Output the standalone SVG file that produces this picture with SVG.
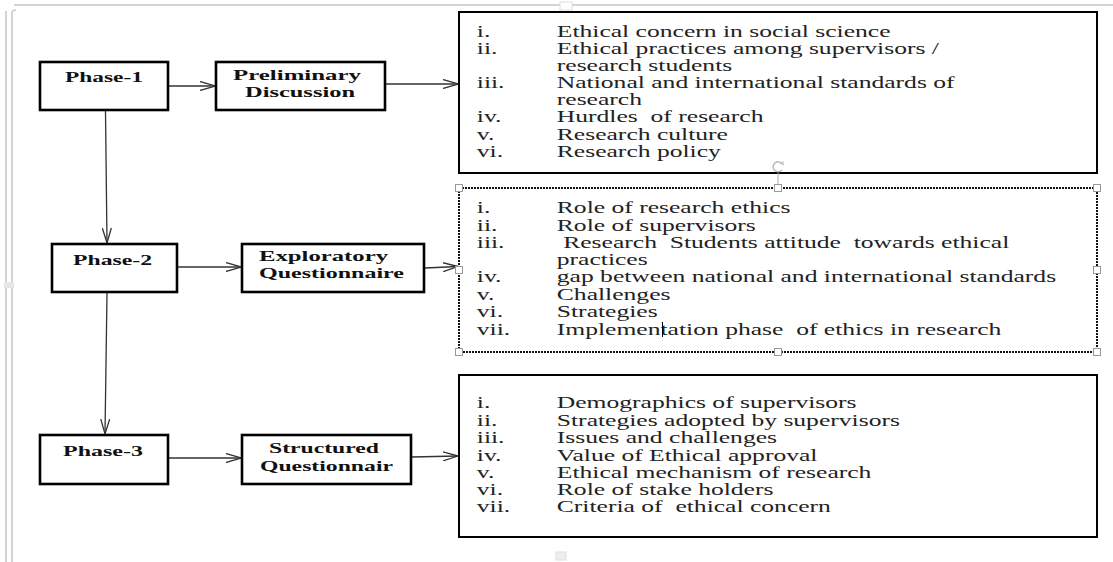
<svg xmlns="http://www.w3.org/2000/svg" width="1113" height="562" viewBox="0 0 1113 562">
<style>
.node rect{fill:#fff;stroke:#000;stroke-width:2.6}
.lbl{font-family:"Liberation Serif","Times New Roman",serif;font-weight:bold;font-size:15px;fill:#111}
.list text{font-family:"Liberation Serif","Times New Roman",serif;font-size:16px;fill:#222;white-space:pre}
.box{fill:#fff;stroke:#000;stroke-width:2}
.conn line{stroke:#333;stroke-width:1.3;fill:none}
.frame{stroke:#d4d4d4;stroke-width:2;fill:none}
.hdl{fill:#fff;stroke:#999;stroke-width:1}
</style>
<defs>
<marker id="arr" viewBox="0 0 16 10" refX="15" refY="5" markerWidth="16" markerHeight="10" markerUnits="userSpaceOnUse" orient="auto">
<path d="M0,0.5 L15,5 L0,9.5" fill="none" stroke="#333" stroke-width="1.3"/>
</marker>
</defs>
<rect width="1113" height="562" fill="#fff"/>
<g id="frame">
<line class="frame" x1="14" y1="5" x2="1113" y2="5"/>
<line class="frame" x1="6" y1="11" x2="6" y2="562"/>
<path class="frame" d="M12,562 V13 Q12,10 16,10"/>
<rect x="4" y="282" width="10" height="6" fill="#e6e6e6"/>
<rect x="560" y="2" width="12" height="8" fill="#fff" stroke="#ddd" stroke-width="1"/>
<rect x="556" y="552" width="10" height="8" fill="#eee" stroke="#e0e0e0" stroke-width="1"/>
</g>
<g id="connectors" class="conn">
<line x1="168" y1="86" x2="215" y2="86" marker-end="url(#arr)"/>
<line x1="386" y1="84" x2="458" y2="84" marker-end="url(#arr)"/>
<line x1="105.5" y1="111" x2="107" y2="243" marker-end="url(#arr)"/>
<line x1="178" y1="267" x2="241" y2="267" marker-end="url(#arr)"/>
<line x1="425" y1="268" x2="458" y2="266.5" marker-end="url(#arr)"/>
<line x1="107" y1="293" x2="105" y2="434" marker-end="url(#arr)"/>
<line x1="168" y1="458" x2="241" y2="458" marker-end="url(#arr)"/>
<line x1="412" y1="457" x2="458" y2="456" marker-end="url(#arr)"/>
</g>
<g id="phase1" class="node"><rect x="40" y="62" width="128" height="48"/><text class="lbl" x="65" y="81.5" textLength="78" lengthAdjust="spacingAndGlyphs">Phase-1</text></g>
<g id="preliminary" class="node"><rect x="216" y="62" width="169" height="48"/><text class="lbl" x="233" y="79.5" textLength="128" lengthAdjust="spacingAndGlyphs">Preliminary</text><text class="lbl" x="245" y="96.5" textLength="110" lengthAdjust="spacingAndGlyphs">Discussion</text></g>
<g id="phase2" class="node"><rect x="52" y="244" width="125" height="48"/><text class="lbl" x="73" y="265" textLength="79" lengthAdjust="spacingAndGlyphs">Phase-2</text></g>
<g id="exploratory" class="node"><rect x="242" y="244" width="182" height="48"/><text class="lbl" x="259" y="261" textLength="129" lengthAdjust="spacingAndGlyphs">Exploratory</text><text class="lbl" x="259" y="278" textLength="145" lengthAdjust="spacingAndGlyphs">Questionnaire</text></g>
<g id="phase3" class="node"><rect x="40" y="435" width="128" height="49"/><text class="lbl" x="63" y="456" textLength="80" lengthAdjust="spacingAndGlyphs">Phase-3</text></g>
<g id="structured" class="node"><rect x="242" y="435" width="169" height="49"/><text class="lbl" x="269" y="453" textLength="110" lengthAdjust="spacingAndGlyphs">Structured</text><text class="lbl" x="260" y="471" textLength="133" lengthAdjust="spacingAndGlyphs">Questionnair</text></g>
<g id="list1">
<rect class="box" x="459" y="12" width="638" height="161"/>
<g class="list" transform="scale(1.6,1)">
<text x="298" y="37">i.</text><text x="348" y="37">Ethical concern in social science</text>
<text x="298" y="54">ii.</text><text x="348" y="54">Ethical practices among supervisors /</text>
<text x="348" y="71">research students</text>
<text x="298" y="88">iii.</text><text x="348" y="88">National and international standards of</text>
<text x="348" y="105">research</text>
<text x="298" y="122.5">iv.</text><text x="348" y="122.5">Hurdles  of research</text>
<text x="298" y="140">v.</text><text x="348" y="140">Research culture</text>
<text x="298" y="157.5">vi.</text><text x="348" y="157.5">Research policy</text>
</g>
</g>
<g id="list2">
<rect x="459" y="188" width="638" height="164" fill="#fff" stroke="#111" stroke-width="2" stroke-dasharray="2 1"/>
<line x1="778" y1="173" x2="778" y2="185" stroke="#aaa" stroke-width="1"/>
<path d="M782.5,164.5 A5,5 0 1 0 782,170" fill="none" stroke="#bbb" stroke-width="1.5"/>
<path d="M780,163 L783.5,164.5 L782.5,161" fill="none" stroke="#bbb" stroke-width="1"/>
<rect class="hdl" x="455.5" y="184.5" width="7" height="7"/>
<rect class="hdl" x="774.5" y="184.5" width="7" height="7"/>
<rect class="hdl" x="1093.5" y="184.5" width="7" height="7"/>
<rect class="hdl" x="455.5" y="266.5" width="7" height="7"/>
<rect class="hdl" x="1093.5" y="266.5" width="7" height="7"/>
<rect class="hdl" x="455.5" y="348.5" width="7" height="7"/>
<rect class="hdl" x="774.5" y="348.5" width="7" height="7"/>
<rect class="hdl" x="1093.5" y="348.5" width="7" height="7"/>
<g class="list" transform="scale(1.6,1)">
<text x="298" y="213.5">i.</text><text x="348" y="213.5">Role of research ethics</text>
<text x="298" y="231">ii.</text><text x="348" y="231">Role of supervisors</text>
<text x="298" y="248.5">iii.</text><text x="348" y="248.5"> Research  Students attitude  towards ethical</text>
<text x="348" y="265.5">practices</text>
<text x="298" y="282.5">iv.</text><text x="348" y="282.5">gap between national and international standards</text>
<text x="298" y="300">v.</text><text x="348" y="300">Challenges</text>
<text x="298" y="317.5">vi.</text><text x="348" y="317.5">Strategies</text>
<text x="298" y="335">vii.</text><text x="348" y="335">Implementation phase  of ethics in research</text>
</g>
<line x1="662.5" y1="322" x2="662.5" y2="337" stroke="#000" stroke-width="1"/>
</g>
<g id="list3">
<rect class="box" x="459" y="375" width="638" height="162"/>
<g class="list" transform="scale(1.6,1)">
<text x="298" y="408.5">i.</text><text x="348" y="408.5">Demographics of supervisors</text>
<text x="298" y="426">ii.</text><text x="348" y="426">Strategies adopted by supervisors</text>
<text x="298" y="443.5">iii.</text><text x="348" y="443.5">Issues and challenges</text>
<text x="298" y="461">iv.</text><text x="348" y="461">Value of Ethical approval</text>
<text x="298" y="478">v.</text><text x="348" y="478">Ethical mechanism of research</text>
<text x="298" y="495.5">vi.</text><text x="348" y="495.5">Role of stake holders</text>
<text x="298" y="512.5">vii.</text><text x="348" y="512.5">Criteria of  ethical concern</text>
</g>
</g>
</svg>
